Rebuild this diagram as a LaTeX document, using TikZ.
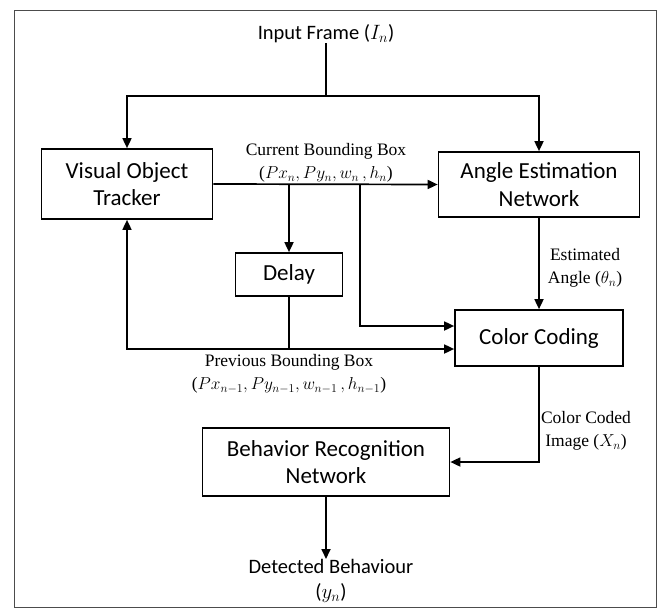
\documentclass[tikz,border=0pt]{standalone}
\usepackage{fontspec}
\setmainfont{Carlito}
\newfontfamily\lblfont{Liberation Serif}
\usetikzlibrary{arrows.meta}
\tikzset{
  box/.style={draw, line width=1.7pt, align=center, inner sep=0pt, font=\fontsize{23}{27.5}\selectfont},
  lbl/.style={align=center, inner sep=0pt, font=\lblfont\fontsize{17.5}{23}\selectfont},
  txt/.style={align=center, inner sep=0pt, font=\fontsize{20.5}{25}\selectfont},
  arr/.style={line width=1.7pt, -{Triangle[length=10pt,width=9pt]}},
  thin/.style={line width=1.1pt}
}
\begin{document}
\begin{tikzpicture}[x=1pt,y=-1pt]
\useasboundingbox (0,0) rectangle (669,608);
\fill[white] (0,0) rectangle (669,608);
\draw[line width=1pt, black!70] (14,10) rectangle (656,607);

\node[txt] (in) at (326,34) {Input Frame ($I_n$)};
\node[box, minimum width=171pt, minimum height=70pt] (vot) at (127,184) {Visual Object\\Tracker};
\node[box, minimum width=201pt, minimum height=65pt] (aen) at (539,184.5) {Angle Estimation\\Network};
\node[box, minimum width=107pt, minimum height=43pt] (delay) at (289,274.5) {Delay};
\node[box, minimum width=168pt, minimum height=56pt] (cc) at (539,338) {Color Coding};
\node[box, minimum width=247pt, minimum height=68pt] (brn) at (326,462) {Behavior Recognition\\Network};
\node[txt, anchor=north] (out) at (331,559) {Detected Behaviour\\($y_n$)};

\node[lbl] (lcur) at (326,163) {Current Bounding Box\\($Px_n,Py_n,w_n\,,h_n$)};
\node[lbl] (lang) at (585,268) {Estimated\\Angle ($\theta_n$)};
\node[lbl] (lprev) at (289,374) {Previous Bounding Box\\($Px_{n-1},Py_{n-1},w_{n-1}\,,h_{n-1}$)};
\node[lbl] (lcol) at (586,431) {Color Coded\\Image ($X_n$)};

\coordinate (j1) at (326,96);
\coordinate (b1) at (289,184);
\coordinate (b2) at (360,184);
\coordinate (b3) at (289,349);

\draw[thin] (in.south) -- (j1);
\draw[arr] (j1) -| (vot.north);
\draw[arr] (j1) -| (aen.north);
\draw[arr] (vot.east) -- (aen.west);
\draw[arr] (b1) -- (delay.north);
\draw[arr] (b2) |- ([yshift=12pt]cc.west);
\draw[arr] (aen.south) -- (cc.north);
\draw[thin] (delay.south) -- (b3);
\draw[arr] (b3) -| (vot.south);
\draw[arr] (b3) -- ([yshift=-11pt]cc.west);
\draw[arr] (cc.south) |- (brn.east);
\draw[arr] (brn.south) -- (brn.south |- out.north);
\end{tikzpicture}
\end{document}
